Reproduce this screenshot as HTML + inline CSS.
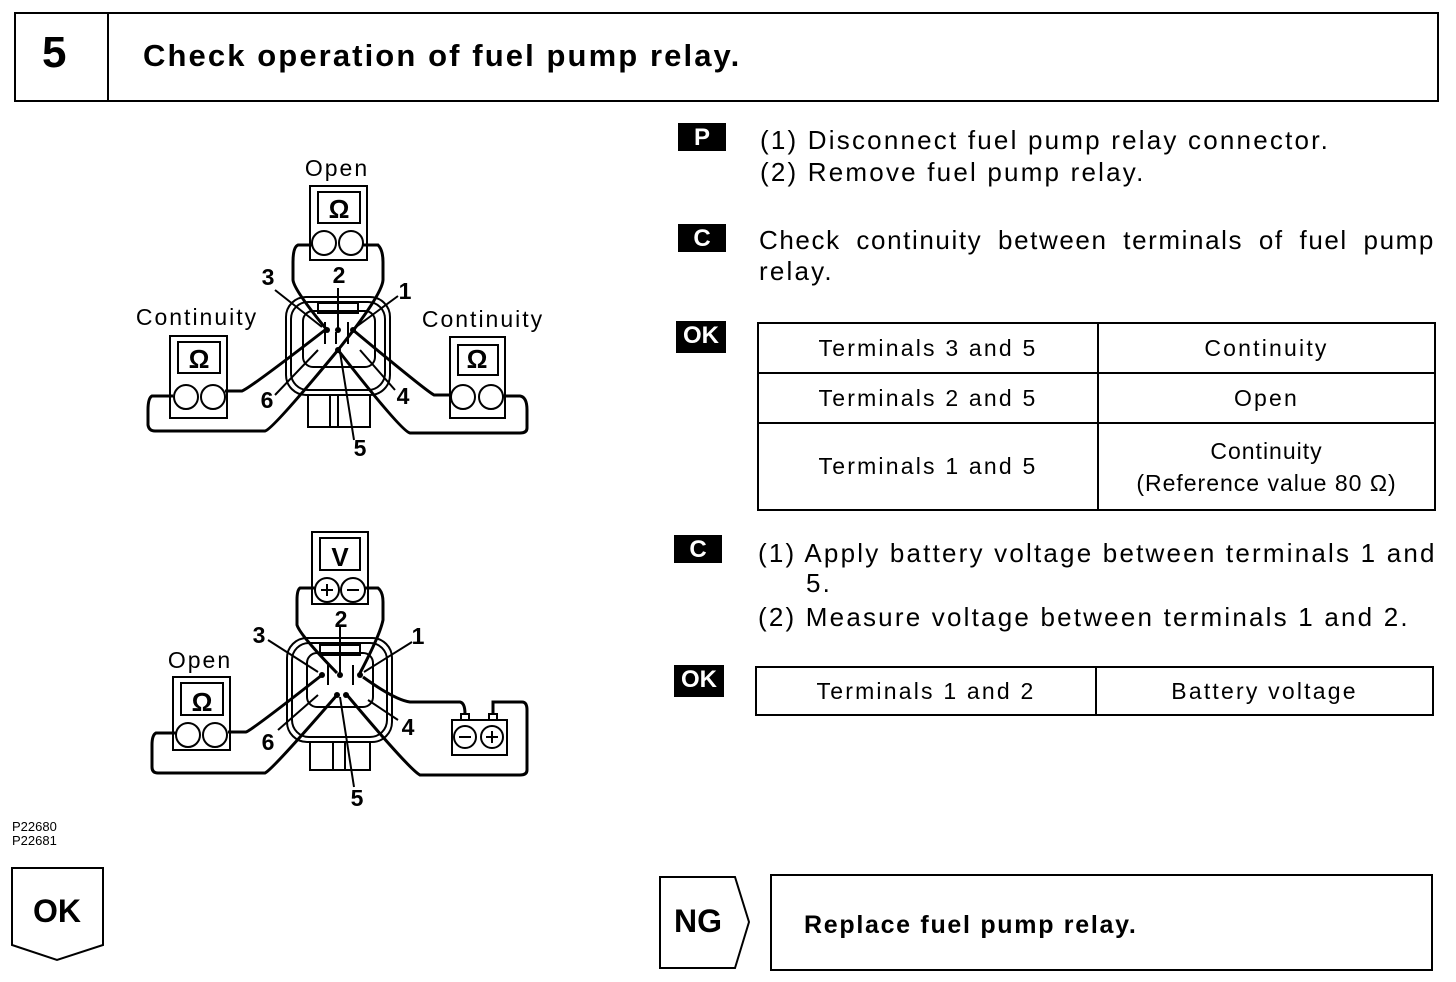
<!DOCTYPE html>
<html><head><meta charset="utf-8"><style>
body{margin:0;width:1456px;height:982px;background:#fff;position:relative;overflow:hidden;font-family:"Liberation Sans",sans-serif;color:#000}
.a{position:absolute;white-space:nowrap}
.badge{position:absolute;background:#000;color:#fff;font-weight:bold;font-size:24px;text-align:center;line-height:30px}
.t{font-size:26px;letter-spacing:2.2px}
table{position:absolute;border-collapse:collapse;font-size:23px}
td{border:2px solid #000;text-align:center;padding:0;letter-spacing:2.2px}
</style></head><body>
<div class="a" style="left:14px;top:12px;width:1421px;height:86px;border:2px solid #000"></div>
<div class="a" style="left:107px;top:12px;width:2px;height:88px;background:#000"></div>
<div class="a" style="left:42px;top:28px;font-size:44px;font-weight:bold">5</div>
<div class="a" style="left:143px;top:38px;font-size:31px;font-weight:bold;letter-spacing:2.1px">Check operation of fuel pump relay.</div>

<div class="badge" style="left:678px;top:123px;width:48px;height:28px">P</div>
<div class="a t" style="left:760px;top:125px">(1) Disconnect fuel pump relay connector.</div>
<div class="a t" style="left:760px;top:157px">(2) Remove fuel pump relay.</div>
<div class="badge" style="left:678px;top:224px;width:48px;height:28px">C</div>
<div class="a t" style="left:759px;top:225px;width:676px;white-space:normal;text-align:justify;text-align-last:justify;letter-spacing:1.6px">Check continuity between terminals of fuel pump</div>
<div class="a t" style="left:759px;top:256px">relay.</div>
<div class="badge" style="left:676px;top:321px;width:50px;height:32px">OK</div>
<table style="left:757px;top:322px;width:679px;height:189px">
<tr style="height:50px"><td style="width:338px">Terminals 3 and 5</td><td>Continuity</td></tr>
<tr style="height:50px"><td>Terminals 2 and 5</td><td>Open</td></tr>
<tr><td>Terminals 1 and 5</td><td style="line-height:32px;letter-spacing:1px">Continuity<br>(Reference value 80 Ω)</td></tr>
</table>
<div class="badge" style="left:674px;top:535px;width:48px;height:28px">C</div>
<div class="a t" style="left:758px;top:538px">(1) Apply battery voltage between terminals 1 and</div>
<div class="a t" style="left:806px;top:568px">5.</div>
<div class="a t" style="left:758px;top:602px">(2) Measure voltage between terminals 1 and 2.</div>
<div class="badge" style="left:674px;top:665px;width:50px;height:32px">OK</div>
<table style="left:755px;top:666px;width:679px;height:50px">
<tr><td style="width:338px">Terminals 1 and 2</td><td>Battery voltage</td></tr>
</table>

<div class="a" style="left:12px;top:820px;font-size:13px;line-height:14px">P22680<br>P22681</div>

<svg class="a" style="left:0;top:0" width="1456" height="982">
<g fill="none" stroke="#000" stroke-width="2">
<polygon points="12,868 103,868 103,945 57,960 12,945"/>
<polygon points="660,877 735,877 749,922 735,968 660,968"/>
<rect x="771" y="875" width="661" height="95"/>
</g>
<text x="33" y="922" font-size="32" font-weight="bold" font-family="Liberation Sans">OK</text>
<text x="674" y="932" font-size="32" font-weight="bold" font-family="Liberation Sans">NG</text>
<text x="804" y="933" font-size="25" font-weight="bold" font-family="Liberation Sans" letter-spacing="1.7">Replace fuel pump relay.</text>

<g font-family="Liberation Sans" font-size="23" text-anchor="middle" letter-spacing="2">
<text x="337" y="176">Open</text>
<text x="197" y="325">Continuity</text>
<text x="483" y="327">Continuity</text>
<text x="200" y="668">Open</text>
</g>
<g font-family="Liberation Sans" font-size="23" font-weight="bold" text-anchor="middle">
<text x="268" y="285">3</text><text x="339" y="283">2</text><text x="405" y="299">1</text>
<text x="267" y="408">6</text><text x="403" y="404">4</text><text x="360" y="456">5</text>
<text x="259" y="643">3</text><text x="341" y="627">2</text><text x="418" y="644">1</text>
<text x="268" y="750">6</text><text x="408" y="735">4</text><text x="357" y="806">5</text>
</g>
<g font-family="Liberation Sans" font-size="26" font-weight="bold" text-anchor="middle">
<text x="339" y="218">Ω</text><text x="199" y="368">Ω</text><text x="477" y="368">Ω</text>
<text x="340" y="566">V</text><text x="202" y="711">Ω</text>
</g>
<g fill="none" stroke="#000" stroke-width="2">
<rect x="310" y="186" width="57" height="74"/><rect x="318" y="192" width="42" height="31"/>
<circle cx="324" cy="243" r="12"/><circle cx="351" cy="243" r="12"/>
<rect x="170" y="336" width="57" height="82"/><rect x="178" y="342" width="42" height="31"/>
<circle cx="186" cy="397" r="12"/><circle cx="213" cy="397" r="12"/>
<rect x="450" y="337" width="55" height="81"/><rect x="458" y="345" width="40" height="30"/>
<circle cx="463" cy="397" r="12"/><circle cx="491" cy="397" r="12"/>
<rect x="286" y="297" width="104" height="98" rx="20"/>
<rect x="291" y="302" width="94" height="88" rx="17"/>
<rect x="303" y="311" width="72" height="56" rx="10"/>
<rect x="308" y="395" width="62" height="32"/>
<line x1="330" y1="395" x2="330" y2="427"/><line x1="338" y1="395" x2="338" y2="427"/>
<rect x="318" y="303" width="40" height="10"/>
<path d="M325,322 v22 M336,332 v12 M348,322 v22"/>
<g stroke-width="3">
<path d="M312,245 H298 Q293,247 293,262 V280 Q294,290 327,330"/>
<path d="M363,245 H378 Q383,250 383,262 V280 Q382,295 338,350"/>
<path d="M173,396 H152 Q148,398 148,410 V425 Q149,431 155,431 H265 Q272,430 338,350"/>
<path d="M225,391 H242 Q250,388 325,330"/>
<path d="M451,395 H434 Q425,390 353,330"/>
<path d="M503,396 H520 Q527,397 527,410 V428 Q527,433 520,433 H410 Q402,432 338,350"/>
</g>
<path d="M275,290 L322,327 M338,288 V330 M398,296 L356,327 M275,395 L318,350 M395,390 L360,350 M354,440 L340,352"/>
<rect x="312" y="532" width="56" height="72"/><rect x="320" y="538" width="40" height="32"/>
<circle cx="327" cy="590" r="12"/><circle cx="353" cy="590" r="12"/>
<path d="M321,590 h12 M327,584 v12 M347,590 h12"/>
<rect x="173" y="677" width="57" height="73"/><rect x="181" y="683" width="42" height="32"/>
<circle cx="188" cy="735" r="12"/><circle cx="215" cy="735" r="12"/>
<rect x="452" y="720" width="55" height="35"/>
<circle cx="465" cy="737" r="11"/><circle cx="492" cy="737" r="11"/>
<path d="M459,737 h12 M486,737 h12 M492,731 v12"/>
<rect x="461" y="714" width="8" height="6"/><rect x="489" y="714" width="8" height="6"/>
<rect x="287" y="638" width="105" height="104" rx="20"/>
<rect x="292" y="643" width="95" height="94" rx="17"/>
<rect x="307" y="653" width="66" height="54" rx="10"/>
<rect x="310" y="742" width="60" height="28"/>
<line x1="333" y1="742" x2="333" y2="770"/><line x1="345" y1="742" x2="345" y2="770"/>
<rect x="320" y="645" width="40" height="10"/>
<path d="M328,665 v20 M353,665 v20"/>
<g stroke-width="3">
<path d="M315,588 H300 Q297,590 297,600 V625 Q300,635 337,673"/>
<path d="M365,588 H378 Q383,592 383,602 V620 Q380,635 360,673"/>
<path d="M228,732 H246 Q252,730 322,675"/>
<path d="M176,733 H156 Q152,735 152,745 V767 Q152,773 158,773 H265 Q272,770 337,695"/>
<path d="M363,677 Q395,700 410,702 H460 Q465,703 465,714"/>
<path d="M493,714 V702 H522 Q527,702 527,710 V770 Q527,775 520,775 H420 Q410,770 347,695"/>
</g>
<path d="M268,640 L318,672 M340,625 V673 M412,642 L364,672 M278,730 L318,695 M398,720 L368,700 M354,787 L340,697"/>
</g>
<g fill="#000">
<circle cx="327" cy="330" r="3"/><circle cx="338" cy="330" r="3"/><circle cx="353" cy="330" r="3"/><circle cx="338" cy="350" r="3"/>
<circle cx="322" cy="675" r="3"/><circle cx="340" cy="675" r="3"/><circle cx="360" cy="675" r="3"/><circle cx="337" cy="695" r="3"/><circle cx="346" cy="695" r="3"/>
</g>
</svg>
</body></html>
